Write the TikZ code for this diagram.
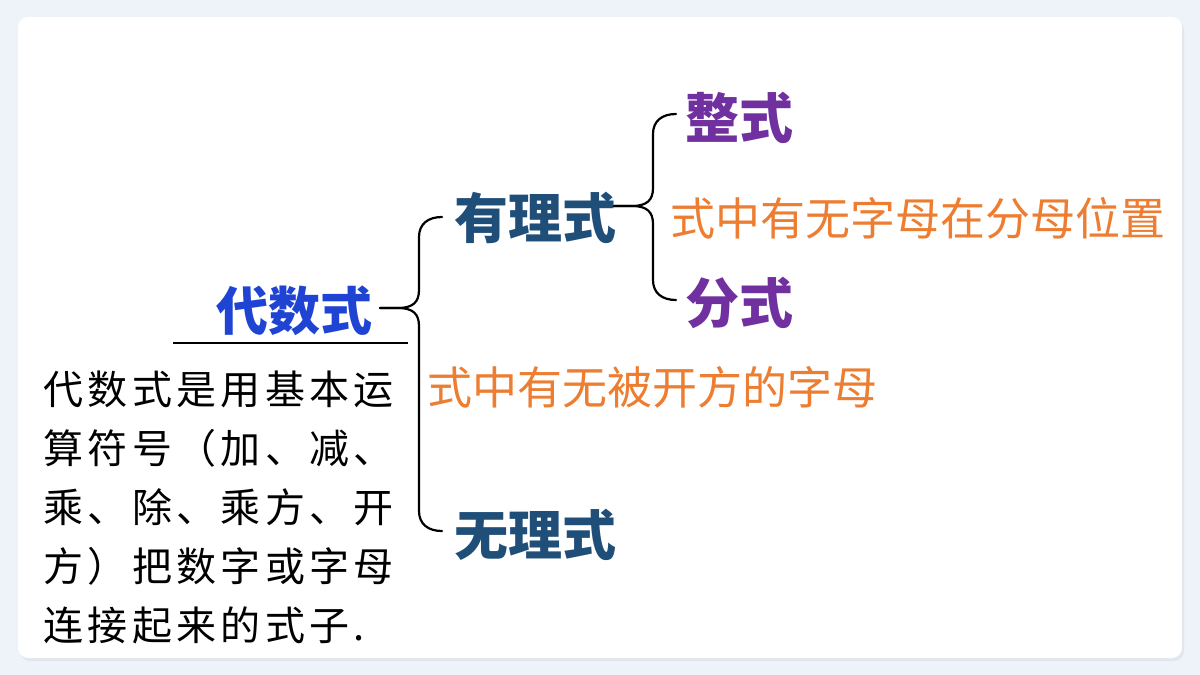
\documentclass[tikz,border=0pt]{standalone}
\usepackage{fontspec}
\usepackage{xcolor}
\usepackage{tikz}
\usetikzlibrary{calc,positioning}

\newfontfamily\cjk{Noto Sans CJK SC}
\newfontfamily\cjkpara[LetterSpace=11]{Noto Sans CJK SC}

\definecolor{bgcol}{HTML}{EEF3F9}
\definecolor{shadecol}{HTML}{E1E6EC}
\definecolor{dsblue}{HTML}{1F44D4}
\definecolor{lsblue}{HTML}{1F4E79}
\definecolor{zspurple}{HTML}{7030A0}
\definecolor{tiporange}{HTML}{ED7D31}

\tikzset{
	head/.style = {inner sep=0, outer sep=0, font=\cjk\bfseries\fontsize{54}{60}\selectfont},
	tip/.style = {inner sep=0, outer sep=0, text=tiporange, font=\cjk\fontsize{45}{50}\selectfont},
	brace/.style = {line width=2.2pt, line cap=round},
	armup/.style = {to path={let \p1=(\tikztostart), \p2=(\tikztotarget) in
		-- (\x2-44pt,\y1) .. controls (\x2-29pt,\y1) and (\x2-23pt,\y1+6pt) .. (\x2-23pt,\y1+18pt)
		-- (\x2-23pt,\y2-20pt) .. controls (\x2-23pt,\y2-7pt) and (\x2-14pt,\y2) .. (\p2)}},
	armdown/.style = {to path={let \p1=(\tikztostart), \p2=(\tikztotarget) in
		-- (\x2-44pt,\y1) .. controls (\x2-29pt,\y1) and (\x2-23pt,\y1-6pt) .. (\x2-23pt,\y1-18pt)
		-- (\x2-23pt,\y2+20pt) .. controls (\x2-23pt,\y2+7pt) and (\x2-14pt,\y2) .. (\p2)}}
}

\begin{document}
\begin{tikzpicture}[x=1pt, y=-1pt]
	\useasboundingbox (0,0) rectangle (1200,675);
	\fill[bgcol] (0,0) rectangle (1200,675);
	\fill[shadecol, rounded corners=10pt] (20,20) rectangle (1184,661);
	\fill[white, rounded corners=10pt] (18,17) rectangle (1182,658);

	\node[head, text=dsblue, font=\cjk\bfseries\fontsize{52}{60}\selectfont] (dss) at (294,311) {代数式};
	\draw[line width=2.5pt] (173,343) -- (408,343);
	\node[inner sep=0, anchor=north west, align=left, font=\cjkpara\fontsize{40}{59}\selectfont] (dy) at (43,371)
		{代数式是用基本运\\算符号（加、减、\\乘、除、乘方、开\\方）把数字或字母\\连接起来的式子.};

	\node[head, text=lsblue] (yls) at (535,218) {有理式};
	\node[head, text=lsblue] (wls) at (535,535) {无理式};
	\node[tip] (kf) at (652.5,387.5) {式中有无被开方的字母};

	\node[head, text=zspurple] (zs) at (739.5,117.5) {整式};
	\node[head, text=zspurple] (fs) at (739.5,302.5) {分式};
	\node[tip] (fm) at (918,218) {式中有无字母在分母位置};

	\draw[brace] ([xshift=8pt,yshift=3pt]dss.east) to[armup] ([xshift=-12pt,yshift=1pt]yls.west);
	\draw[brace] ([xshift=8pt,yshift=3pt]dss.east) to[armdown] ([xshift=-12pt,yshift=4pt]wls.west);
	\draw[brace] ([xshift=-2pt,yshift=12pt]yls.east) to[armup] ([xshift=-9.5pt,yshift=3.5pt]zs.west);
	\draw[brace] ([xshift=-2pt,yshift=12pt]yls.east) to[armdown] ([xshift=-9.5pt,yshift=2.5pt]fs.west);
\end{tikzpicture}
\end{document}
